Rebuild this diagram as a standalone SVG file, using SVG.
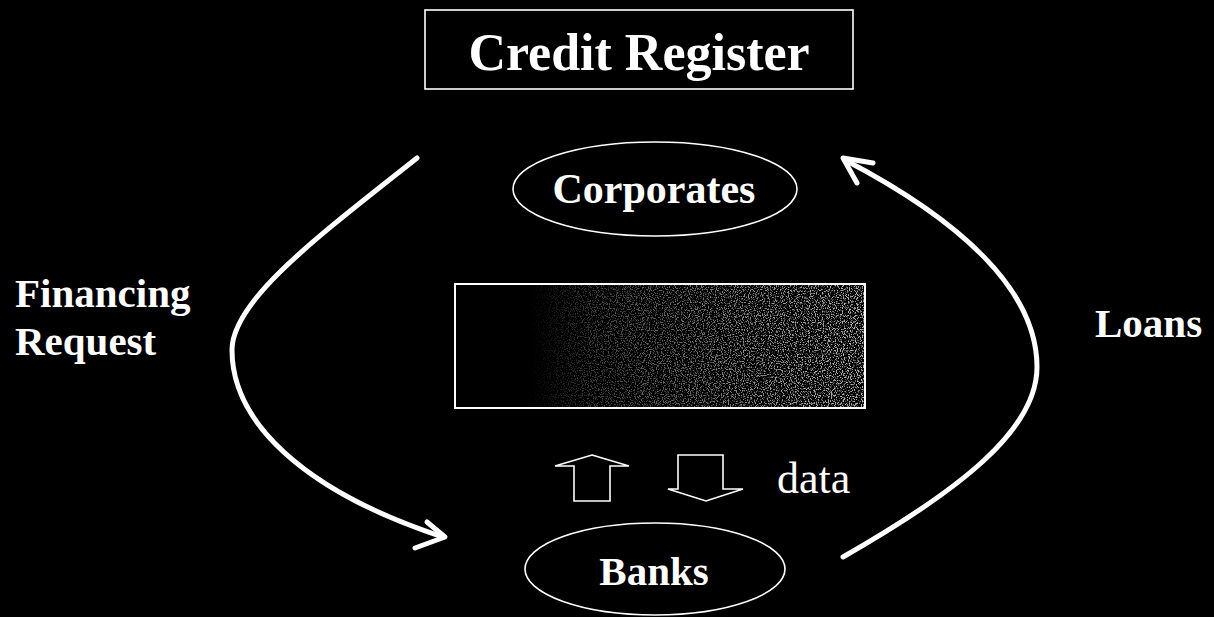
<svg xmlns="http://www.w3.org/2000/svg" width="1214" height="617" viewBox="0 0 1214 617">
<style>
.lbl{font-family:"Liberation Serif","Times New Roman",serif;font-weight:bold;fill:#fff}
.thin{fill:none;stroke:#fff;stroke-width:1.6}
.conn{fill:none;stroke:#fff;stroke-width:5;stroke-linecap:round;stroke-linejoin:round}
</style>
<defs>
<linearGradient id="mid" x1="0" y1="0" x2="1" y2="0">
<stop offset="0" stop-color="#000"/>
<stop offset="0.18" stop-color="#000"/>
<stop offset="0.35" stop-color="#444"/>
<stop offset="0.7" stop-color="#888"/>
<stop offset="1" stop-color="#bbb"/>
</linearGradient>
<mask id="fade">
<rect x="455" y="284" width="410" height="124" fill="url(#mid)"/>
</mask>
<filter id="speckle" x="0" y="0" width="1" height="1">
<feTurbulence type="fractalNoise" baseFrequency="0.85" numOctaves="2" seed="3" result="n"/>
<feColorMatrix in="n" type="matrix" values="0 0 0 0 1  0 0 0 0 1  0 0 0 0 1  6 0 0 0 -3"/>
</filter>
</defs>
<rect width="1214" height="617" fill="#000"/>
<g id="credit-register">
<rect class="thin" x="425" y="10" width="428" height="79"/>
<text class="lbl" x="639" y="70" font-size="52" text-anchor="middle">Credit Register</text>
</g>
<g id="corporates">
<ellipse class="thin" cx="655" cy="189" rx="142" ry="47"/>
<text class="lbl" x="654" y="203" font-size="42" text-anchor="middle">Corporates</text>
</g>
<g id="middle-box">
<rect x="455" y="284" width="410" height="124" fill="#000"/>
<rect x="455" y="284" width="410" height="124" filter="url(#speckle)" mask="url(#fade)"/>
<rect x="455" y="284" width="410" height="124" fill="none" stroke="#fff" stroke-width="2"/>
</g>
<g id="banks">
<ellipse class="thin" cx="655" cy="569" rx="130" ry="46"/>
<text class="lbl" x="654" y="585" font-size="41" text-anchor="middle">Banks</text>
</g>
<g id="label-financing">
<text class="lbl" x="15" y="307" font-size="41">Financing</text>
<text class="lbl" x="15" y="355" font-size="41">Request</text>
</g>
<g id="label-loans">
<text class="lbl" x="1095" y="337" font-size="41">Loans</text>
</g>
<g id="data-arrows">
<polygon class="thin" points="592,455 629,466 610,466 610,501 574,501 574,466 555,466"/>
<polygon class="thin" points="678,455 723,455 723,489 743,489 706,501 668,489 678,489"/>
<text x="777" y="493" font-size="44" fill="#fff" font-family="Liberation Serif,'Times New Roman',serif">data</text>
</g>
<g id="connectors">
<path class="conn" d="M417,158 C320,235 232,300 232,350 C232,420 300,490 443,537"/>
<polyline class="conn" points="427,522 445,537 415,548"/>
<path class="conn" d="M843,557 C960,490 1037,430 1037,367 C1037,290 960,220 845,160"/>
<polyline class="conn" points="873,163 843,158 857,183"/>
</g>
</svg>
